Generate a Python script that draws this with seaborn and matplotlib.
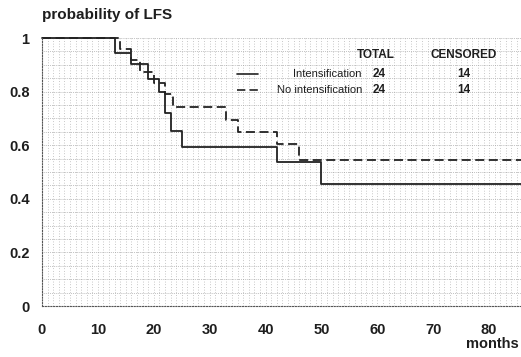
import numpy as np
import pandas as pd
import seaborn as sns
import matplotlib
matplotlib.use("Agg")
import matplotlib.pyplot as plt
from matplotlib.ticker import MultipleLocator

# Kaplan-Meier step values
intens_months = [0, 13, 16, 19, 21, 22, 23, 25, 42, 50, 86]
intens_prob = [1.0, 0.944, 0.903, 0.847, 0.80, 0.72, 0.654, 0.594, 0.537, 0.455, 0.455]

nointens_months = [0, 14, 16, 17.5, 20, 22, 23.5, 33, 35, 42, 46, 86]
nointens_prob = [1.0, 0.958, 0.917, 0.875, 0.833, 0.792, 0.743, 0.694, 0.65, 0.605, 0.545, 0.545]

groups = ["Intensification", "No intensification"]
totals = [24, 24]
censored = [14, 14]

x_ticks = [0, 10, 20, 30, 40, 50, 60, 70, 80]
y_ticks = [0, 0.2, 0.4, 0.6, 0.8, 1.0]
y_labels = ["0", "0.2", "0.4", "0.6", "0.8", "1"]

df = pd.concat([
    pd.DataFrame({"month": intens_months, "prob": intens_prob, "group": groups[0]}),
    pd.DataFrame({"month": nointens_months, "prob": nointens_prob, "group": groups[1]}),
])

sns.set_style("white")
plt.rcParams["font.family"] = ["Liberation Sans", "DejaVu Sans"]
ink = "#1e1e1e"

fig = plt.figure(figsize=(5.21, 3.57), dpi=100)
ax = fig.add_axes([42 / 521, 51 / 357, 479 / 521, 268 / 357])

# scanned-paper dotted background grid
ax.xaxis.set_minor_locator(MultipleLocator(1))
ax.yaxis.set_minor_locator(MultipleLocator(0.05))
ax.grid(True, which="minor", axis="x", linestyle=(0, (1, 2.5)), color="#a8a8a8", linewidth=0.55)
ax.grid(True, which="both", axis="y", linestyle=(0, (1, 1.5)), color="#a0a0a0", linewidth=0.55)
ax.grid(True, which="major", axis="x", linestyle=(0, (1, 2.5)), color="#a8a8a8", linewidth=0.55)
ax.set_axisbelow(True)

sns.lineplot(data=df, x="month", y="prob", style="group",
             dashes={groups[0]: "", groups[1]: (5, 2.5)},
             drawstyle="steps-post", estimator=None, color="#222222",
             linewidth=1.3, legend=False, ax=ax)
for ln in ax.lines:
    ln.set_clip_on(False)

ax.set_xlim(0, 85.7)
ax.set_ylim(0, 1)
ax.set_xticks(x_ticks)
ax.set_yticks(y_ticks)
ax.set_yticklabels(y_labels)
ax.tick_params(axis="y", which="major", direction="out", length=4, width=0.8,
               color=ink, labelsize=10.5, pad=5)
ax.tick_params(axis="y", which="minor", direction="out", length=4, width=0.8, color=ink)
ax.tick_params(axis="x", which="major", direction="out", length=3, width=0.8,
               color="#555555", labelsize=10.5, pad=9)
ax.tick_params(axis="x", which="minor", length=0)
for lab in ax.get_xticklabels() + ax.get_yticklabels():
    lab.set_fontweight("bold")
    lab.set_color(ink)

for side in ["top", "right"]:
    ax.spines[side].set_visible(False)
for side in ["left", "bottom"]:
    ax.spines[side].set_linestyle((0, (1, 1.5)))
    ax.spines[side].set_color("#555555")
    ax.spines[side].set_linewidth(0.8)

ax.set_xlabel("")
ax.set_ylabel("")

fig.text(42 / 521, 1 - 15 / 357, "probability of LFS", fontsize=11, fontweight="bold",
         color=ink, va="center", ha="left")
fig.text(519 / 521, 1 - 344 / 357, "months", fontsize=10.5, fontweight="bold",
         color=ink, va="center", ha="right")

# legend table
fig.text(376 / 521, 1 - 55 / 357, "TOTAL", fontsize=8.5, fontweight="bold",
         color=ink, va="center", ha="center")
fig.text(464 / 521, 1 - 55 / 357, "CENSORED", fontsize=8.5, fontweight="bold",
         color=ink, va="center", ha="center")
row_y = [74, 90]
styles = ["-", (0, (5, 2.5))]
for g, tot, cen, yy, st in zip(groups, totals, censored, row_y, styles):
    yf = 1 - yy / 357
    fig.add_artist(plt.Line2D([237 / 521, 258 / 521], [yf, yf], color="#222222",
                              linewidth=1.2, linestyle=st))
    fig.text(362 / 521, yf, g, fontsize=8, color=ink, va="center", ha="right")
    fig.text(379 / 521, yf, str(tot), fontsize=8.5, fontweight="bold",
             color=ink, va="center", ha="center")
    fig.text(464 / 521, yf, str(cen), fontsize=8.5, fontweight="bold",
             color=ink, va="center", ha="center")

fig.savefig("out.png", dpi=100)
